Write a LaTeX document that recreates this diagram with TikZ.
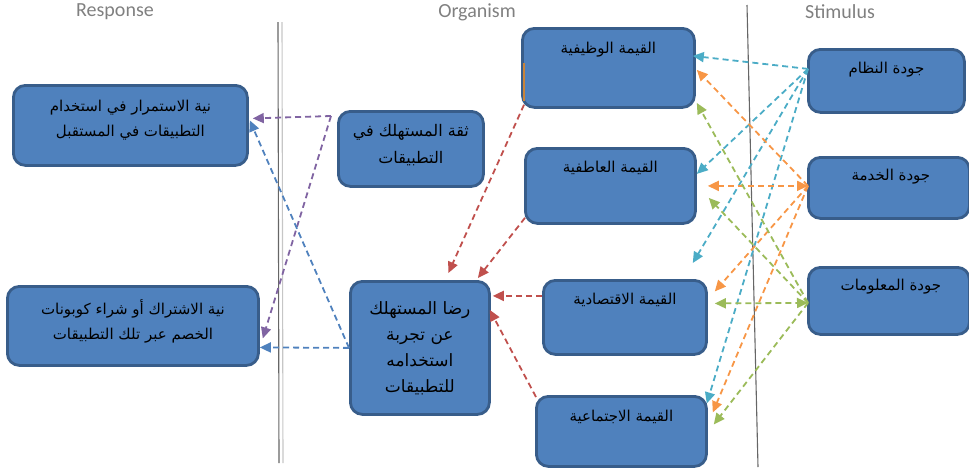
\documentclass[tikz,border=0pt]{standalone}
\usepackage{fontspec}
\usepackage{xcolor}
\usetikzlibrary{arrows.meta}
\TeXXeTstate=1
\newfontfamily\arabicfont[Script=Arabic]{DejaVu Sans}
\newfontfamily\headfont{Carlito}
\newcommand{\rl}[1]{\beginR #1\endR}
\definecolor{boxfill}{HTML}{4F81BD}
\definecolor{boxline}{HTML}{385D8A}
\definecolor{headgray}{HTML}{808080}
\definecolor{linkred}{HTML}{C0504D}
\definecolor{linkpurple}{HTML}{8064A2}
\definecolor{linkblue}{HTML}{4F81BD}
\definecolor{linkcyan}{HTML}{4BACC6}
\definecolor{linkorange}{HTML}{F79646}
\definecolor{linkgreen}{HTML}{9BBB59}
\definecolor{artorange}{HTML}{C8843A}

\begin{document}
\begin{tikzpicture}[x=1pt,y=-1pt,
        box/.style={draw=boxline, fill=boxfill, line width=2.8pt, rounded corners=12pt, anchor=north west, inner sep=0pt},
        atext/.style={font=\arabicfont\fontsize{15}{25}\selectfont, align=center, text=black},
        head/.style={font=\headfont\fontsize{20}{22}\selectfont, text=headgray},
        link/.style={line width=1.8pt, dash pattern=on 6pt off 4pt, -{Triangle[length=11pt,width=10pt]}},
        both/.style={link, {Triangle[length=11pt,width=10pt]}-{Triangle[length=11pt,width=10pt]}}]
        \useasboundingbox (0,0) rectangle (969,469);

        % column headers
        \node[head] (hresp) at (115,12) {Response};
        \node[head] (horg) at (477,12) {Organism};
        \node[head] (hstim) at (840,12) {Stimulus};

        % separators
        \draw[line width=1.1pt, color=gray!80!black] (278,22) -- (279,463);
        \draw[line width=1.1pt, color=gray!45] (282,22) -- (283,463);
        \draw[line width=1.1pt, color=gray!80!black] (747,5) -- (758,467);

        % response
        \node[box, minimum width=234pt, minimum height=80pt] (r1) at (12,84) {};
        \node[box, minimum width=251pt, minimum height=79pt] (r2) at (6,285) {};
        \node[atext] (r1t) at ([yshift=5pt]r1.center) {\rl{نية الاستمرار في استخدام}\\\rl{التطبيقات في المستقبل}};
        \node[atext] (r2t) at ([yshift=5pt]r2.center) {\rl{نية الاشتراك أو شراء كوبونات}\\\rl{الخصم عبر تلك التطبيقات}};

        % organism
        \node[box, minimum width=145pt, minimum height=75pt] (trust) at (337,110) {};
        \node[box, minimum width=139pt, minimum height=133pt] (sat) at (349,280) {};
        \node[box, minimum width=172pt, minimum height=79pt] (fv) at (521,27) {};
        \node[box, minimum width=170pt, minimum height=75pt] (ev) at (524,147) {};
        \node[box, minimum width=163pt, minimum height=74pt] (xv) at (542,279) {};
        \node[box, minimum width=170pt, minimum height=70pt] (sv) at (535,395) {};
        \draw[line width=1.5pt, color=artorange] (524,63) -- (524,101);

        \node[atext, font=\arabicfont\fontsize{16}{27}\selectfont] (trt) at ([yshift=4pt]trust.center) {\rl{ثقة المستهلك في}\\\rl{التطبيقات}};
        \node[atext, font=\arabicfont\fontsize{17}{26}\selectfont] (satt) at (sat.center) {\rl{رضا المستهلك}\\\rl{عن تجربة}\\\rl{استخدامه}\\\rl{للتطبيقات}};
        \node[atext] (fvt) at ([yshift=-23pt]fv.north) {\rl{القيمة الوظيفية}};
        \node[atext] (evt) at ([yshift=-21pt]ev.north) {\rl{القيمة العاطفية}};
        \node[atext] (xvt) at ([yshift=-21pt]xv.north) {\rl{القيمة الاقتصادية}};
        \node[atext] (svt) at ([yshift=-22pt]sv.north) {\rl{القيمة الاجتماعية}};

        % stimulus
        \node[box, minimum width=156pt, minimum height=63pt] (sys) at (807,48) {};
        \node[box, minimum width=161pt, minimum height=61pt] (svc) at (807,156) {};
        \node[box, minimum width=161pt, minimum height=67pt] (inf) at (807,266) {};
        \node[atext] (syst) at ([yshift=-22pt]sys.north) {\rl{جودة النظام}};
        \node[atext] (svct) at ([xshift=2pt,yshift=-21pt]svc.north) {\rl{جودة الخدمة}};
        \node[atext] (inft) at ([xshift=2pt,yshift=-21pt]inf.north) {\rl{جودة المعلومات}};

        % organism -> response
        \coordinate (tp) at ([xshift=-6pt,yshift=-6pt]trust.north west);
        \draw[link, color=linkpurple] (tp) -- ([xshift=4pt,yshift=7pt]r1.east);
        \draw[link, color=linkpurple] (tp) -- ([xshift=3pt,yshift=-12.5pt]r2.east);
        \draw[link, color=linkblue] (sat.west) -- ([yshift=-21.5pt]r2.east);
        \draw[link, color=linkblue] (sat.west) -- ([xshift=1pt,yshift=5pt]r1.east);

        % values -> satisfaction
        \draw[link, color=linkred] ([xshift=3pt,yshift=4pt]fv.south west) -- ([xshift=28.5pt,yshift=7pt]sat.north);
        \draw[link, color=linkred] ([xshift=1pt,yshift=7pt]ev.south west) -- ([xshift=58pt,yshift=2pt]sat.north);
        \draw[link, color=linkred] ([yshift=21.5pt]xv.west) -- ([xshift=2pt,yshift=52pt]sat.east);
        \draw[link, color=linkred] ([xshift=1pt,yshift=-2pt]sv.north west) -- ([xshift=-1pt,yshift=38pt]sat.east);

        % stimulus -> values
        \draw[link, color=linkcyan] ([xshift=1pt,yshift=12pt]sys.west) -- ([xshift=-3pt,yshift=12pt]fv.east);
        \draw[link, color=linkcyan] ([xshift=1pt,yshift=12pt]sys.west) -- ([yshift=12pt]ev.east);
        \draw[link, color=linkcyan] ([xshift=1pt,yshift=12pt]sys.west) -- ([xshift=-15pt,yshift=16pt]xv.north east);
        \draw[link, color=linkcyan] ([xshift=1pt,yshift=12pt]sys.west) -- ([xshift=-1pt,yshift=28pt]sv.east);

        \draw[link, color=linkorange] ([xshift=1pt,yshift=2pt]svc.west) -- ([xshift=1pt,yshift=-2pt]fv.east);
        \draw[both, color=linkorange] ([xshift=11pt]ev.east) -- ([xshift=1pt,yshift=2pt]svc.west);
        \draw[link, color=linkorange] ([xshift=1pt,yshift=2pt]svc.west) -- ([xshift=7pt,yshift=26pt]xv.east);
        \draw[link, color=linkorange] ([xshift=1pt,yshift=2pt]svc.west) -- ([xshift=5pt,yshift=19pt]sv.east);

        \draw[link, color=linkgreen] ([xshift=1pt,yshift=-2pt]inf.west) -- ([xshift=1pt,yshift=-35pt]fv.east);
        \draw[link, color=linkgreen] ([xshift=1pt,yshift=-2pt]inf.west) -- ([xshift=12pt,yshift=-12pt]ev.east);
        \draw[both, color=linkgreen] ([xshift=7pt,yshift=14pt]xv.east) -- ([xshift=1pt,yshift=-2pt]inf.west);
        \draw[link, color=linkgreen] ([xshift=1pt,yshift=-2pt]inf.west) -- ([xshift=6pt,yshift=7pt]sv.east);
    \end{tikzpicture}
\end{document}
